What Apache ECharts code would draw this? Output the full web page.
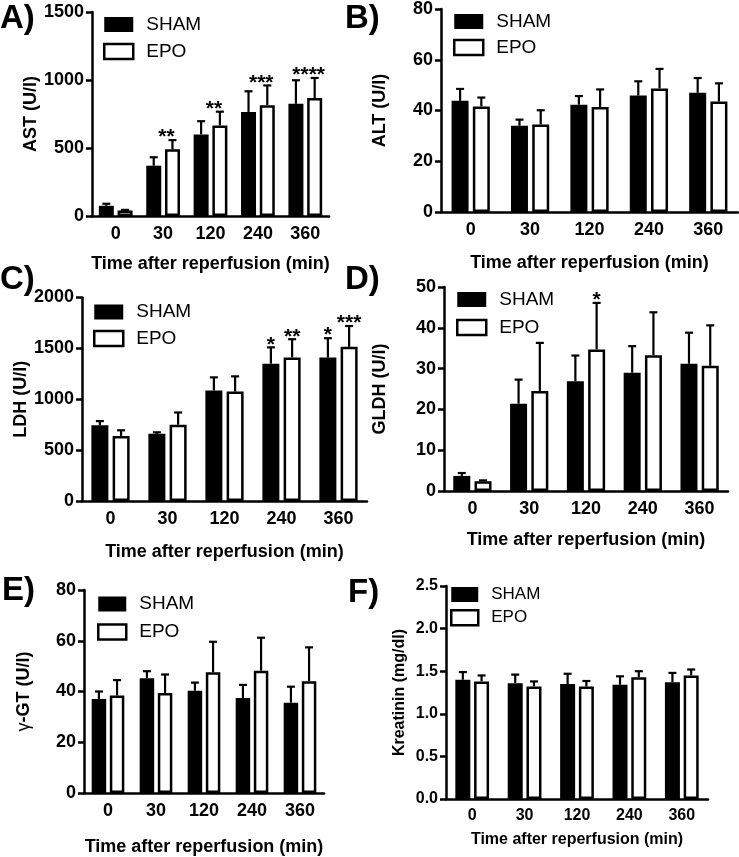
<!DOCTYPE html>
<html><head><meta charset="utf-8">
<script src="https://cdn.jsdelivr.net/npm/echarts@6/dist/echarts.min.js"></script>
<style>html,body{margin:0;padding:0;background:#fff}#c{width:739px;height:857px}</style>
</head><body><div id="c"></div>
<script>
const categories = ['0', '30', '120', '240', '360'];
const seriesNames = ['SHAM', 'EPO'];
const xTitle = 'Time after reperfusion (min)';

// A) AST
const astTicks = [0, 500, 1000, 1500];
const astSham = [75, 370, 600, 765, 825];
const astShamErr = [90, 432, 697, 917, 998];
const astEpo = [40, 490, 665, 815, 868];
const astEpoErr = [45, 558, 767, 960, 1015];
const astStars = ['', '**', '**', '***', '****'];

// B) ALT
const altTicks = [0, 20, 40, 60, 80];
const altSham = [43.8, 34.0, 42.3, 45.9, 47.0];
const altShamErr = [48.5, 36.4, 45.7, 51.5, 52.8];
const altEpo = [41.6, 34.5, 41.4, 48.7, 43.5];
const altEpoErr = [45.1, 40.1, 48.3, 56.4, 50.7];

// C) LDH
const ldhTicks = [0, 500, 1000, 1500, 2000];
const ldhSham = [745, 660, 1085, 1350, 1410];
const ldhShamErr = [785, 675, 1215, 1510, 1600];
const ldhEpo = [640, 750, 1075, 1410, 1515];
const ldhEpoErr = [695, 870, 1225, 1590, 1720];
const ldhStarsSham = ['', '', '', '*', '*'];
const ldhStarsEpo = ['', '', '', '**', '***'];

// D) GLDH
const gldhTicks = [0, 10, 20, 30, 40, 50];
const gldhSham = [3.7, 21.4, 26.9, 29.0, 31.2];
const gldhShamErr = [4.4, 27.3, 33.2, 35.5, 38.8];
const gldhEpo = [2.4, 24.5, 34.7, 33.3, 30.7];
const gldhEpoErr = [2.6, 36.3, 46.1, 43.8, 40.6];
const gldhStarsEpo = ['', '', '*', '', ''];

// E) gamma-GT
const ggtTicks = [0, 20, 40, 60, 80];
const ggtSham = [37.0, 45.2, 40.3, 37.4, 35.6];
const ggtShamErr = [40.0, 48.0, 43.5, 42.6, 41.9];
const ggtEpo = [38.4, 39.4, 47.6, 48.2, 44.0];
const ggtEpoErr = [44.5, 46.7, 59.6, 61.2, 57.4];

// F) Kreatinin
const kreaTicks = [0, 0.5, 1.0, 1.5, 2.0, 2.5];
const kreaSham = [1.40, 1.36, 1.35, 1.34, 1.37];
const kreaShamErr = [1.49, 1.46, 1.47, 1.44, 1.48];
const kreaEpo = [1.38, 1.32, 1.32, 1.43, 1.45];
const kreaEpoErr = [1.45, 1.38, 1.385, 1.50, 1.52];

const FF = "'Liberation Sans', Arial, Helvetica, sans-serif";

const panels = [
  { letter: 'A)', lx: 0, ly: 2, grid: { left: 92, top: 12, width: 237, height: 204 }, ticks: astTicks, dec: 0,
    yName: 'AST (U/l)', yGap: 51, xGap: 39, bw: 15, fs: 18, ns: 18, ls: 19,
    sham: astSham, shamErr: astShamErr, epo: astEpo, epoErr: astEpoErr,
    starsEpo: astStars, starShift: -0.4, legend: { left: 103, top: 15, gap: 8, w: 29 } },
  { letter: 'B)', lx: 345, ly: 2, grid: { left: 441, top: 7, width: 297, height: 205 }, ticks: altTicks, dec: 0,
    yName: 'ALT (U/l)', yGap: 52, xGap: 42, bw: 17, fs: 18, ns: 18, ls: 19,
    sham: altSham, shamErr: altShamErr, epo: altEpo, epoErr: altEpoErr,
    legend: { left: 453, top: 12, gap: 7, w: 29 } },
  { letter: 'C)', lx: 0, ly: 263, grid: { left: 82, top: 297.5, width: 285, height: 203.5 }, ticks: ldhTicks, dec: 0,
    yName: 'LDH (U/l)', yGap: 46, xGap: 42, bw: 17, fs: 18, ns: 18, ls: 19,
    sham: ldhSham, shamErr: ldhShamErr, epo: ldhEpo, epoErr: ldhEpoErr,
    starsSham: ldhStarsSham, starsEpo: ldhStarsEpo, starShift: 0,
    legend: { left: 93, top: 302.5, gap: 7.5, w: 29 } },
  { letter: 'D)', lx: 345, ly: 263, grid: { left: 444, top: 287, width: 284, height: 204 }, ticks: gldhTicks, dec: 0,
    yName: 'GLDH (U/l)', yGap: 55, xGap: 40, bw: 17, fs: 18, ns: 18, ls: 19,
    sham: gldhSham, shamErr: gldhShamErr, epo: gldhEpo, epoErr: gldhEpoErr,
    starsEpo: gldhStarsEpo, starShift: 0,
    legend: { left: 456, top: 290, gap: 9, w: 29 } },
  { letter: 'E)', lx: 2, ly: 574, grid: { left: 84, top: 590, width: 240, height: 207 }, ticks: ggtTicks, dec: 0,
    yName: '{g|γ}-GT (U/l)', yGap: 51, xGap: 45, bw: 14.5, fs: 18, ns: 18, ls: 19,
    sham: ggtSham, shamErr: ggtShamErr, epo: ggtEpo, epoErr: ggtEpoErr,
    legend: { left: 97, top: 594.5, gap: 9, w: 28 } },
  { letter: 'F)', lx: 348, ly: 576, grid: { left: 446, top: 586, width: 262, height: 213 }, ticks: kreaTicks, dec: 1,
    yName: 'Kreatinin (mg/dl)', yGap: 38, xGap: 33, bw: 15, fs: 16, ns: 16, ls: 17,
    sham: kreaSham, shamErr: kreaShamErr, epo: kreaEpo, epoErr: kreaEpoErr,
    legend: { left: 450, top: 586, gap: 6, w: 27 } }
];

function errSeries(pi, vals, errs, side, bw, stars, starShift) {
  return {
    type: 'custom', xAxisIndex: pi, yAxisIndex: pi, silent: true, z: 5,
    data: vals.map((v, i) => [i, v, errs[i]]),
    renderItem(params, api) {
      const i = api.value(0);
      const c = api.coord([i, 0])[0];
      const x = c + side * 0.625 * bw;
      const y0 = api.coord([i, api.value(1)])[1];
      const y1 = api.coord([i, api.value(2)])[1];
      const ch = [
        { type: 'line', shape: { x1: x, y1: y0, x2: x, y2: y1 }, style: { stroke: '#000', lineWidth: 2.2 } },
        { type: 'line', shape: { x1: x - 4, y1: y1, x2: x + 4, y2: y1 }, style: { stroke: '#000', lineWidth: 2.2 } }
      ];
      const s = stars ? stars[params.dataIndex] : '';
      if (s) {
        ch.push({ type: 'text', x: x + (starShift || 0) * bw, y: y1 - 13,
          style: { text: s, fill: '#000', font: 'bold 21px ' + FF, align: 'center', verticalAlign: 'top' } });
      }
      return { type: 'group', children: ch };
    }
  };
}

const grids = [], xAxes = [], yAxes = [], series = [], legends = [], graphics = [];
panels.forEach((p, pi) => {
  grids.push(Object.assign({ containLabel: false }, p.grid));
  const tmin = p.ticks[0], tmax = p.ticks[p.ticks.length - 1], tint = p.ticks[1] - p.ticks[0];
  xAxes.push({
    type: 'category', gridIndex: pi, data: categories,
    axisLine: { lineStyle: { color: '#000', width: 2.5 } },
    axisTick: { alignWithLabel: true, length: 6, lineStyle: { color: '#000', width: 2.5 } },
    axisLabel: { color: '#000', fontWeight: 'bold', fontSize: p.fs, fontFamily: FF, margin: 9 },
    name: xTitle, nameLocation: 'middle', nameGap: p.xGap,
    nameTextStyle: { color: '#000', fontWeight: 'bold', fontSize: p.ns, fontFamily: FF }
  });
  yAxes.push({
    type: 'value', gridIndex: pi, min: tmin, max: tmax, interval: tint,
    axisLine: { show: true, lineStyle: { color: '#000', width: 2.5 } },
    axisTick: { show: true, length: 6, lineStyle: { color: '#000', width: 2.5 } },
    splitLine: { show: false },
    axisLabel: { color: '#000', fontWeight: 'bold', fontSize: p.fs, fontFamily: FF, margin: 8,
      formatter: v => v.toFixed(p.dec) },
    name: p.yName, nameLocation: 'middle', nameGap: p.yGap,
    nameTextStyle: { color: '#000', fontWeight: 'bold', fontSize: p.ns, fontFamily: FF,
      rich: { g: { fontWeight: 'normal', fontSize: p.ns, fontFamily: FF, color: '#000' } } }
  });
  series.push({
    type: 'bar', name: seriesNames[0], xAxisIndex: pi, yAxisIndex: pi, data: p.sham,
    barWidth: p.bw, barGap: '25%', itemStyle: { color: '#000' }
  });
  series.push({
    type: 'bar', name: seriesNames[1], xAxisIndex: pi, yAxisIndex: pi, data: p.epo,
    barWidth: p.bw, barGap: '25%', itemStyle: { color: '#fff', borderColor: '#000', borderWidth: 2.5 }
  });
  series.push(errSeries(pi, p.sham, p.shamErr, -1, p.bw, p.starsSham, 0));
  series.push(errSeries(pi, p.epo, p.epoErr, 1, p.bw, p.starsEpo, p.starShift));
  legends.push({
    orient: 'vertical', left: p.legend.left, top: p.legend.top, itemGap: p.legend.gap,
    itemWidth: p.legend.w, itemHeight: 15, selectedMode: false, padding: 0,
    data: [
      { name: seriesNames[0], icon: 'rect', itemStyle: { color: '#000', borderWidth: 0 } },
      { name: seriesNames[1], icon: 'rect', itemStyle: { color: '#fff', borderColor: '#000', borderWidth: 2.5 } }
    ],
    formatter: '{t|{name}}',
    textStyle: { color: '#000', fontSize: p.ls, fontFamily: FF,
      rich: { t: { fontSize: p.ls, fontFamily: FF, color: '#000', lineHeight: p.ls, padding: [0, 0, 0, 8] } } }
  });
  graphics.push({ type: 'text', left: p.lx, top: p.ly,
    style: { text: p.letter, font: 'bold 33px ' + FF, fill: '#000' } });
});

const chart = echarts.init(document.getElementById('c'), null, { renderer: 'canvas' });
chart.setOption({
  animation: false,
  backgroundColor: '#fff',
  grid: grids, xAxis: xAxes, yAxis: yAxes, series: series, legend: legends, graphic: graphics
});
</script>
</body></html>
